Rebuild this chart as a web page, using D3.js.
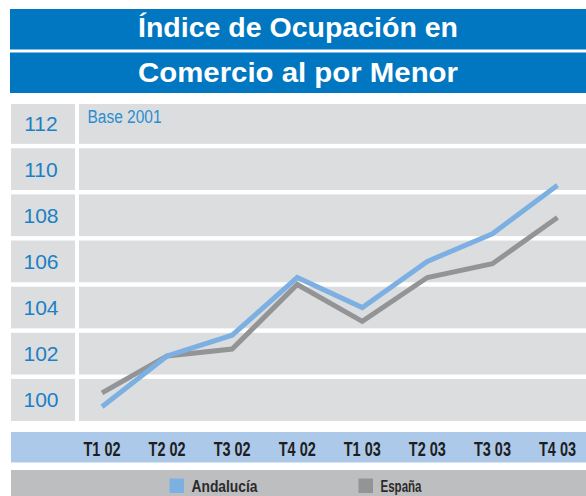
<!DOCTYPE html>
<html>
<head>
<meta charset="utf-8">
<script src="https://cdn.jsdelivr.net/npm/d3@7"></script>
<style>
  body { margin: 0; background: #fff; }
  svg { display: block; }
</style>
</head>
<body>
<svg id="chart" width="586" height="496"></svg>
<script>
// Índice de ocupación - comercio al por menor (base 2001)
const titleLines = ['Índice de Ocupación en', 'Comercio al por Menor'];
const quarters = ['T1 02', 'T2 02', 'T3 02', 'T4 02', 'T1 03', 'T2 03', 'T3 03', 'T4 03'];
const andalucia = [99.7, 101.9, 102.8, 105.3, 104.0, 106.0, 107.2, 109.3];
const espana = [100.3, 101.9, 102.2, 105.0, 103.4, 105.3, 105.9, 107.9];
const yTicks = [100, 102, 104, 106, 108, 110, 112];
const seriesNames = ['Andalucía', 'España'];
const seriesColors = ['#7db0e2', '#939496'];
const baseNote = 'Base 2001';

const svg = d3.select('#chart');
const W = 586;
const left = 11;
const colRight = 75;
const plotLeft = 79;

// Title block
svg.append('rect').attr('x', 10).attr('y', 9).attr('width', W - 10).attr('height', 84).attr('fill', '#0077c0');
svg.append('rect').attr('x', 10).attr('y', 49.5).attr('width', W - 10).attr('height', 3).attr('fill', '#fff');
svg.selectAll('text.title')
    .data(titleLines)
    .join('text')
    .attr('class', 'title')
    .attr('x', 298)
    .attr('y', (d, i) => i === 0 ? 37 : 82)
    .attr('text-anchor', 'middle')
    .attr('font-family', 'Liberation Sans, Arial, sans-serif')
    .attr('font-size', 27)
    .attr('font-weight', 'bold')
    .attr('fill', '#fff')
    .attr('textLength', 320)
    .attr('lengthAdjust', 'spacingAndGlyphs')
    .text(d => d);

// Scales
const x = d3.scalePoint().domain(quarters).range([102, 557.5]);
const y = d3.scaleLinear().domain([100, 112]).range([399.8, 123]);
const panelTop = 104, panelBottom = 421;

// Grey panel
svg.append('rect').attr('x', left).attr('y', panelTop)
    .attr('width', W - left).attr('height', panelBottom - panelTop)
    .attr('fill', '#dcdddf');

// White separators between rows (at odd values)
const seps = yTicks.slice(0, -1).map(t => t + 1);
svg.selectAll('rect.sep')
    .data(seps)
    .join('rect')
    .attr('class', 'sep')
    .attr('x', left)
    .attr('y', d => y(d) - 2.2)
    .attr('width', W - left)
    .attr('height', 4.4)
    .attr('fill', '#fff');

svg.append('rect').attr('x', colRight).attr('y', panelTop)
    .attr('width', plotLeft - colRight).attr('height', panelBottom - panelTop)
    .attr('fill', '#fff');

// Y labels
svg.selectAll('text.ytick')
    .data(yTicks)
    .join('text')
    .attr('class', 'ytick')
    .attr('x', 41)
    .attr('y', d => y(d) + 7.5)
    .attr('text-anchor', 'middle')
    .attr('font-family', 'Liberation Sans, Arial, sans-serif')
    .attr('font-size', 21)
    .attr('fill', '#1b80c4')
    .text(d => d);

svg.append('text')
    .attr('x', 87.5).attr('y', 122.7)
    .attr('font-family', 'Liberation Sans, Arial, sans-serif')
    .attr('font-size', 18)
    .attr('fill', '#2a8dd0')
    .attr('textLength', 74)
    .attr('lengthAdjust', 'spacingAndGlyphs')
    .text(baseNote);

// Lines
const line = d3.line().x((d, i) => x(quarters[i])).y(d => y(d));
[espana, andalucia].forEach(vals => {
    svg.append('path')
        .datum(vals)
        .attr('d', line)
        .attr('fill', 'none')
        .attr('stroke', vals === andalucia ? seriesColors[0] : seriesColors[1])
        .attr('stroke-width', 5)
        .attr('stroke-linejoin', 'miter');
});

// X axis band (condensed bold labels, squeezed horizontally)
svg.append('rect').attr('x', left).attr('y', 432).attr('width', W - left).attr('height', 30.5).attr('fill', '#adc9ea');
svg.selectAll('g.xtick')
    .data(quarters)
    .join('g')
    .attr('class', 'xtick')
    .attr('transform', d => `translate(${x(d)},455.5) scale(0.69,1)`)
    .append('text')
    .attr('text-anchor', 'middle')
    .attr('font-family', 'Liberation Sans, Arial, sans-serif')
    .attr('font-size', 21)
    .attr('font-weight', 'bold')
    .attr('fill', '#1e1e1e')
    .text(d => d);

// Legend band
svg.append('rect').attr('x', left).attr('y', 470).attr('width', W - left).attr('height', 26).attr('fill', '#bdbec0');
const legendX = [169.5, 358.5];
const legendW = [66, 41];
const lg = svg.selectAll('g.legend')
    .data(seriesNames)
    .join('g')
    .attr('class', 'legend')
    .attr('transform', (d, i) => `translate(${legendX[i]},478.5)`);
lg.append('rect').attr('width', 14.5).attr('height', 14.5).attr('fill', (d, i) => seriesColors[i]);
lg.append('text')
    .attr('x', 22).attr('y', 13)
    .attr('font-family', 'Liberation Sans, Arial, sans-serif')
    .attr('font-size', 17)
    .attr('font-weight', 'bold')
    .attr('fill', '#2b2b2b')
    .attr('textLength', (d, i) => legendW[i])
    .attr('lengthAdjust', 'spacingAndGlyphs')
    .text(d => d);
</script>
</body>
</html>
